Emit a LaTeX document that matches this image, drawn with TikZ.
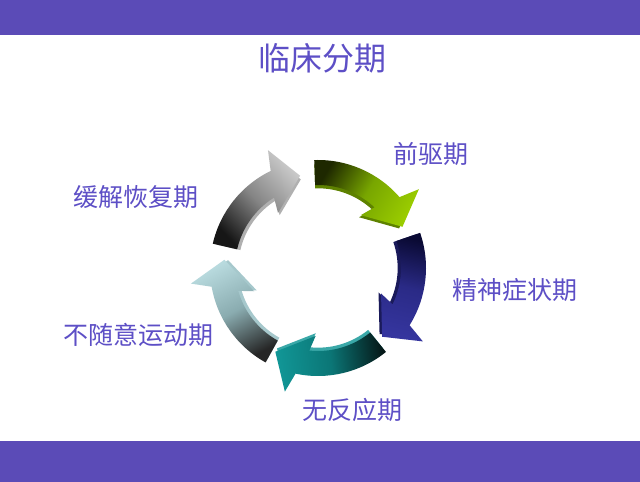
\documentclass[tikz,border=0pt]{standalone}
\usepackage{fontspec}
\newfontfamily\cjk{Noto Sans CJK SC}
\definecolor{band}{HTML}{5B4BB7}
\definecolor{txt}{HTML}{5D4FC6}
\definecolor{gT}{HTML}{1E2800}\definecolor{gM}{HTML}{78A600}\definecolor{gH}{HTML}{9ACC00}\definecolor{gS}{HTML}{5E8200}
\definecolor{bT}{HTML}{0A0A34}\definecolor{bM}{HTML}{2A2A86}\definecolor{bH}{HTML}{35359E}\definecolor{bS}{HTML}{1A1A5A}
\definecolor{tT}{HTML}{051818}\definecolor{tM}{HTML}{0B7676}\definecolor{tH}{HTML}{119696}\definecolor{tS}{HTML}{3AA8A8}
\definecolor{lT}{HTML}{262626}\definecolor{lM}{HTML}{8AACB0}\definecolor{lH}{HTML}{B8DADE}\definecolor{lS}{HTML}{A6C8CC}
\definecolor{yT}{HTML}{161616}\definecolor{yM}{HTML}{858585}\definecolor{yH}{HTML}{C8C8C8}\definecolor{yS}{HTML}{B0B0B0}
\tikzset{lbl/.style={text=txt,font=\cjk\fontsize{25}{28}\selectfont,inner sep=0pt}}
\begin{document}
\begin{tikzpicture}[x=1pt,y=1pt]
\useasboundingbox (0,0) rectangle (640,482);
\fill[white] (0,0) rectangle (640,482);
\fill[band] (0,447) rectangle (640,482);
\fill[band] (0,0) rectangle (640,41);
\node[text=txt,font=\cjk\fontsize{32}{36}\selectfont,inner sep=0pt] (title) at (322,424) {临床分期};
\begin{scope}[shift={(318,214)}]
\foreach \T/\tc/\mc/\hc/\sc in {92/gT/gM/gH/gS, 19/bT/bM/bH/bS, -51/tT/tM/tH/tS, -119/lT/lM/lH/lS, 167/yT/yM/yH/yS}{
  \pgfmathsetmacro\sa{\T-213}
  \pgfmathsetmacro\bo{\T-51}
  \pgfmathsetmacro\wo{\T-54}
  \pgfmathsetmacro\tp{\T-66}
  \pgfmathsetmacro\wi{\T-41}
  \pgfmathsetmacro\bi{\T-45}
  \fill[\sc, scale=0.96]
    (\T:108) arc[start angle=\T, end angle=\bo, radius=108]
    -- (\wo:128) -- (\tp:94) -- (\wi:68) -- (\bi:83)
    arc[start angle=\bi, end angle=\T, radius=83] -- cycle;
  \shade[top color=\hc, bottom color=\tc, middle color=\mc, shading angle=\sa]
    (\T:108) arc[start angle=\T, end angle=\bo, radius=108]
    -- (\wo:128) -- (\tp:94) -- (\wi:68) -- (\bi:83)
    arc[start angle=\bi, end angle=\T, radius=83] -- cycle;
}
\end{scope}
\node[lbl] (l1) at (431,328) {前驱期};
\node[lbl] (l2) at (515,192) {精神症状期};
\node[lbl] (l3) at (352,72) {无反应期};
\node[lbl] (l4) at (138,147) {不随意运动期};
\node[lbl] (l5) at (136,285) {缓解恢复期};
\end{tikzpicture}
\end{document}
